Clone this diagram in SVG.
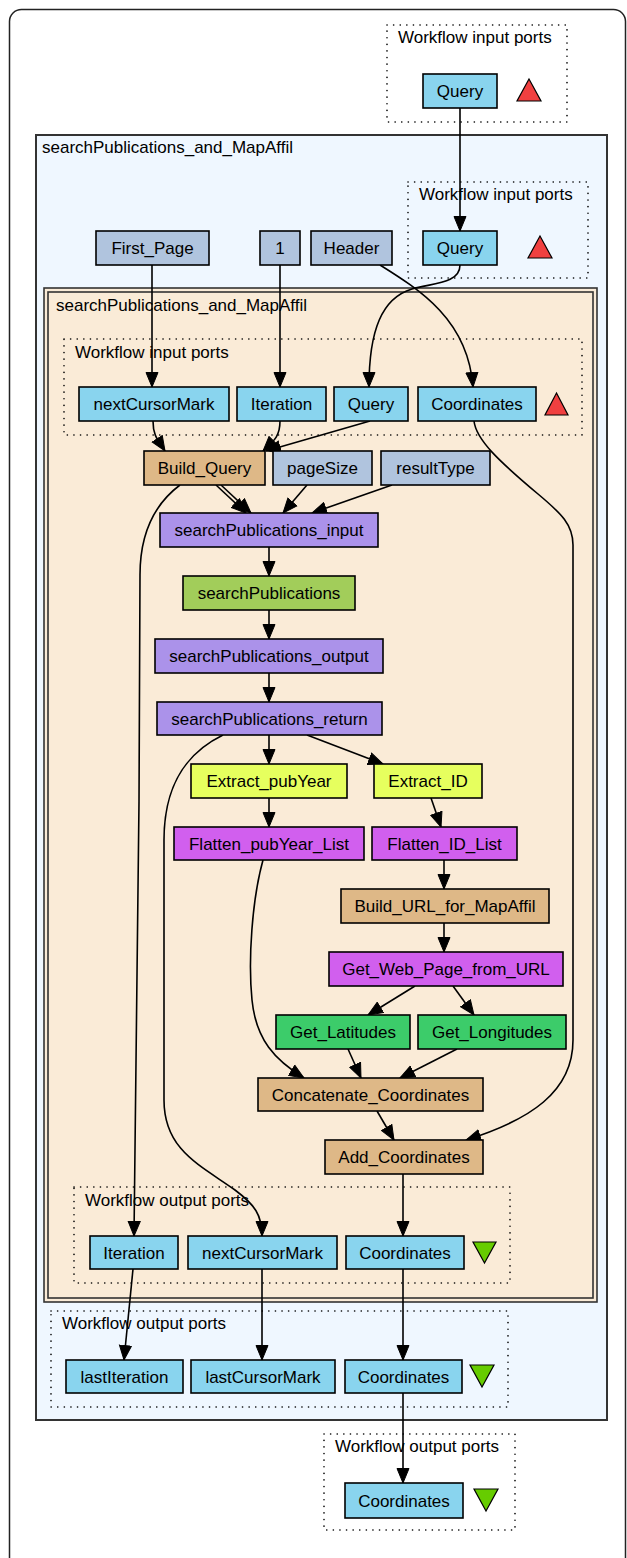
<svg xmlns="http://www.w3.org/2000/svg" width="627" height="1558" viewBox="0 0 627 1558">
<defs>
<marker id="ah" markerWidth="16" markerHeight="14" viewBox="0 0 16 14" refX="15" refY="7" orient="auto" markerUnits="userSpaceOnUse">
<path d="M0.5,1 L15,7 L0.5,13 Z" fill="#000" stroke="#000" stroke-width="1"/>
</marker>
<style>
text{font-family:"Liberation Sans",Arial,sans-serif;font-size:17px;fill:#000}
.n text{text-anchor:middle}
.n rect{stroke:#000;stroke-width:1.6}
.port rect{fill:#89d4ee}
.const rect{fill:#b0c4de}
.bean rect{fill:#deb887}
.xml rect{fill:#ab92ea}
.wsdl rect{fill:#a2cd5a}
.xpath rect{fill:#e6ff5e}
.local rect{fill:#d15fee}
.green rect{fill:#3ccc6a}
.dot{fill:none;stroke:#000;stroke-width:1.6;stroke-dasharray:0.1 6.5;stroke-linecap:round}
.tri-in{fill:#f04040;stroke:#000;stroke-width:1.2}
.tri-out{fill:#66cc00;stroke:#000;stroke-width:1.2}
#edges path{fill:none;stroke:#000;stroke-width:1.6;marker-end:url(#ah)}
</style>
</defs>
<rect x="9.5" y="9.5" width="616" height="1570" rx="12" fill="#fff" stroke="#222" stroke-width="1.5"/>

<g id="cluster_top_in">
<rect class="dot" x="387" y="25" width="180" height="97"/>
<text x="398" y="43">Workflow input ports</text>
</g>
<g id="cluster_outer">
<rect x="36" y="135" width="571" height="1285" fill="#eff7ff" stroke="#333" stroke-width="2"/>
<text x="42" y="153">searchPublications_and_MapAffil</text>
</g>
<g id="cluster_outer_in">
<rect class="dot" x="408" y="182" width="180" height="96"/>
<text x="419" y="200">Workflow input ports</text>
</g>
<g id="cluster_outer_out">
<rect class="dot" x="51" y="1311" width="457" height="96"/>
<text x="62" y="1329">Workflow output ports</text>
</g>
<g id="cluster_inner">
<rect x="44" y="288" width="553" height="1014" fill="#faebd7" stroke="#333" stroke-width="1.6"/>
<rect x="48" y="292" width="545" height="1006" fill="none" stroke="#333" stroke-width="1.6"/>
<text x="56" y="311">searchPublications_and_MapAffil</text>
</g>
<g id="cluster_inner_in">
<rect class="dot" x="64" y="339" width="518" height="96"/>
<text x="75" y="358">Workflow input ports</text>
</g>
<g id="cluster_inner_out">
<rect class="dot" x="74" y="1187" width="436" height="96"/>
<text x="85" y="1206">Workflow output ports</text>
</g>
<g id="cluster_bottom_out">
<rect class="dot" x="324" y="1434" width="191" height="96"/>
<text x="335" y="1452">Workflow output ports</text>
</g>

<g id="edges">
<path d="M460,108 L460,231"/>
<path d="M152,265 L152,387"/>
<path d="M280,265 L280,387"/>
<path d="M460,265 C460,284 432,283 412,289 C382,298 369,330 369,387"/>
<path d="M380,265 C420,290 468,320 473,387"/>
<path d="M153,421 C153,436 158,440 165,451"/>
<path d="M280,421 C280,438 272,442 263,451"/>
<path d="M370,421 L266,451"/>
<path d="M216,485 L246,513"/>
<path d="M221,485 L251,513"/>
<path d="M307,485 L283,513"/>
<path d="M392,485 L312,513"/>
<path d="M180,485 C156,503 140,530 140,575 C140,800 136,1100 134,1236"/>
<path d="M474,421 C476,440 500,462 538,494 C562,514 573,525 573,545 L573,1040 C573,1092 530,1120 466,1140"/>
<path d="M269,547 L269,576"/>
<path d="M269,610 L269,639"/>
<path d="M269,672 L269,702"/>
<path d="M269,735 L269,764"/>
<path d="M307,735 L383,764"/>
<path d="M223,735 C182,755 164,790 164,840 L164,1100 C164,1150 200,1165 235,1190 C255,1205 262,1215 262,1236"/>
<path d="M269,798 L269,827"/>
<path d="M431,798 L441,827"/>
<path d="M263,860 C252,900 248,960 252,1000 C256,1040 275,1060 304,1078"/>
<path d="M444,860 L444,889"/>
<path d="M444,923 L444,952"/>
<path d="M415,986 L368,1015"/>
<path d="M453,986 L474,1015"/>
<path d="M348,1049 L361,1078"/>
<path d="M457,1049 L400,1078"/>
<path d="M377,1111 L394,1140"/>
<path d="M403,1174 L403,1236"/>
<path d="M133,1269 L124,1360"/>
<path d="M262,1269 L262,1360"/>
<path d="M403,1269 L403,1360"/>
<path d="M403,1393 L403,1483"/>
</g>

<g id="top_Query" class="n port"><rect x="423" y="74" width="74" height="34"/><text x="460" y="97">Query</text></g>
<polygon class="tri-in" points="529,79 541,101 517,101"/>

<g id="mid_Query" class="n port"><rect x="423" y="231" width="74" height="34"/><text x="460" y="254">Query</text></g>
<polygon class="tri-in" points="540,236 552,258 528,258"/>
<g id="First_Page" class="n const"><rect x="96" y="231" width="113" height="34"/><text x="152.5" y="254">First_Page</text></g>
<g id="const_1" class="n const"><rect x="260" y="231" width="40" height="34"/><text x="280" y="254">1</text></g>
<g id="Header" class="n const"><rect x="311" y="231" width="81" height="34"/><text x="351.5" y="254">Header</text></g>

<g id="in_nextCursorMark" class="n port"><rect x="79" y="387" width="150" height="34"/><text x="154" y="410">nextCursorMark</text></g>
<g id="in_Iteration" class="n port"><rect x="237" y="387" width="89" height="34"/><text x="281.5" y="410">Iteration</text></g>
<g id="in_Query" class="n port"><rect x="334" y="387" width="74" height="34"/><text x="371" y="410">Query</text></g>
<g id="in_Coordinates" class="n port"><rect x="418" y="387" width="118" height="34"/><text x="477" y="410">Coordinates</text></g>
<polygon class="tri-in" points="556.5,393 568,415 545,415"/>

<g id="Build_Query" class="n bean"><rect x="144" y="451" width="121" height="34"/><text x="204.5" y="474">Build_Query</text></g>
<g id="pageSize" class="n const"><rect x="273" y="451" width="99" height="34"/><text x="322.5" y="474">pageSize</text></g>
<g id="resultType" class="n const"><rect x="381" y="451" width="109" height="34"/><text x="435.5" y="474">resultType</text></g>
<g id="searchPublications_input" class="n xml"><rect x="160" y="513" width="218" height="34"/><text x="269" y="536">searchPublications_input</text></g>
<g id="searchPublications" class="n wsdl"><rect x="183" y="576" width="172" height="34"/><text x="269" y="599">searchPublications</text></g>
<g id="searchPublications_output" class="n xml"><rect x="155" y="639" width="228" height="34"/><text x="269" y="662">searchPublications_output</text></g>
<g id="searchPublications_return" class="n xml"><rect x="157" y="702" width="225" height="33"/><text x="269.5" y="725">searchPublications_return</text></g>
<g id="Extract_pubYear" class="n xpath"><rect x="191" y="764" width="156" height="34"/><text x="269" y="787">Extract_pubYear</text></g>
<g id="Extract_ID" class="n xpath"><rect x="374" y="764" width="108" height="34"/><text x="428" y="787">Extract_ID</text></g>
<g id="Flatten_pubYear_List" class="n local"><rect x="174" y="827" width="190" height="33"/><text x="269" y="850">Flatten_pubYear_List</text></g>
<g id="Flatten_ID_List" class="n local"><rect x="372" y="827" width="145" height="33"/><text x="444.5" y="850">Flatten_ID_List</text></g>
<g id="Build_URL_for_MapAffil" class="n bean"><rect x="341" y="889" width="208" height="34"/><text x="445" y="912">Build_URL_for_MapAffil</text></g>
<g id="Get_Web_Page_from_URL" class="n local"><rect x="329" y="952" width="234" height="34"/><text x="446" y="975">Get_Web_Page_from_URL</text></g>
<g id="Get_Latitudes" class="n green"><rect x="276" y="1015" width="134" height="34"/><text x="343" y="1038">Get_Latitudes</text></g>
<g id="Get_Longitudes" class="n green"><rect x="418" y="1015" width="148" height="34"/><text x="492" y="1038">Get_Longitudes</text></g>
<g id="Concatenate_Coordinates" class="n bean"><rect x="258" y="1078" width="225" height="33"/><text x="370.5" y="1101">Concatenate_Coordinates</text></g>
<g id="Add_Coordinates" class="n bean"><rect x="325" y="1140" width="158" height="34"/><text x="404" y="1163">Add_Coordinates</text></g>

<g id="out_Iteration" class="n port"><rect x="90" y="1236" width="88" height="33"/><text x="134" y="1259">Iteration</text></g>
<g id="out_nextCursorMark" class="n port"><rect x="188" y="1236" width="149" height="33"/><text x="262.5" y="1259">nextCursorMark</text></g>
<g id="out_Coordinates" class="n port"><rect x="346" y="1236" width="118" height="33"/><text x="405" y="1259">Coordinates</text></g>
<polygon class="tri-out" points="473,1242 496,1242 484.5,1263"/>

<g id="lastIteration" class="n port"><rect x="66" y="1360" width="117" height="33"/><text x="124.5" y="1383">lastIteration</text></g>
<g id="lastCursorMark" class="n port"><rect x="191" y="1360" width="144" height="33"/><text x="263" y="1383">lastCursorMark</text></g>
<g id="mid_out_Coordinates" class="n port"><rect x="345" y="1360" width="117" height="33"/><text x="403.5" y="1383">Coordinates</text></g>
<polygon class="tri-out" points="470,1365 494,1365 482,1387"/>

<g id="final_Coordinates" class="n port"><rect x="345" y="1483" width="118" height="35"/><text x="404" y="1507">Coordinates</text></g>
<polygon class="tri-out" points="474,1489 498,1489 486,1511"/>
</svg>
